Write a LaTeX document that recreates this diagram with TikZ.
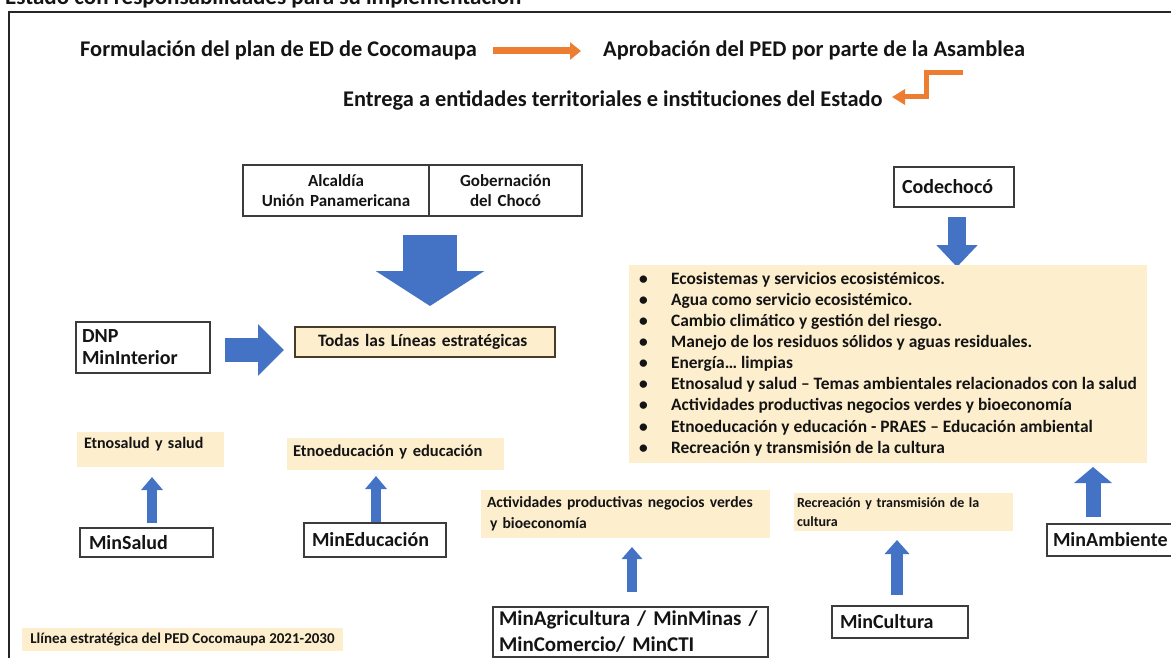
\documentclass[tikz,border=0pt]{standalone}
\usepackage{fontspec}
\setmainfont{Carlito}
\usetikzlibrary{arrows.meta}
\definecolor{ora}{RGB}{237,125,49}
\definecolor{blu}{RGB}{68,114,196}
\definecolor{yel}{RGB}{253,238,205}
\definecolor{bxc}{RGB}{60,60,60}
\definecolor{todc}{RGB}{70,60,40}
\definecolor{txc}{RGB}{20,20,20}
\newcommand\myfs[2]{\fontsize{#1}{#2}\selectfont\bfseries}
\newcommand\bul{\makebox[32pt][l]{\textbullet}}
\begin{document}
\begin{tikzpicture}[x=1pt,y=-1pt,
  bx/.style={draw=bxc, line width=1.2pt, fill=white, anchor=north west, align=left, inner ysep=0pt, outer sep=0pt, text=txc},
  yb/.style={fill=yel, anchor=north west, align=left, inner ysep=0pt, outer sep=0pt, text=txc},
  hdr/.style={anchor=base west, inner sep=0pt, text=txc, font=\myfs{22.4}{27}},
  barr/.style n args={3}{draw=blu, line width=#1, arrows={-{Triangle[length=#2,width=#3]}}},
  oarr/.style n args={3}{draw=ora, line width=#1, line join=miter, arrows={-{Triangle[length=#2,width=#3]}}},
]
\useasboundingbox (0,0) rectangle (1171,658);
\clip (0,0) rectangle (1171,658);
\fill[white] (0,0) rectangle (1171,658);

% frame
\draw[line width=1.6pt, black!85] (1180,12) -- (9,12) -- (9,670);

% cut title (cut by the top edge, as in the reference)
\node[anchor=base west, inner sep=0pt, text=txc, font=\myfs{23}{27}] (ttl) at (5,5) {Estado con responsabilidades para su implementación};

% header
\node[hdr] (formul) at (80,57) {Formulación del plan de ED de Cocomaupa};
\node[hdr] (aprob) at (603,57) {Aprobación del PED por parte de la Asamblea};
\node[hdr] (entrega) at (343,107) {Entrega a entidades territoriales e instituciones del Estado};
\coordinate (o1s) at (493,51);
\coordinate (o1e) at (581,51);
\draw[oarr={7}{11pt}{17pt}] (o1s) -- (o1e);
\coordinate (o2s) at (963,73);
\coordinate (o2e) at (892,97);
\draw[oarr={5}{13pt}{15pt}] (o2s) -- (926,73) -- (926,97) -- (o2e);

% Alcaldia / Gobernacion
\node[bx, minimum height=51, text width=170, inner xsep=8, align=center, font=\myfs{17}{20}] (alc) at (243,165) {Alcaldía\\Unión Panamericana};
\node[bx, minimum height=51, text width=137, inner xsep=8, align=center, font=\myfs{17}{20}] (gob) at (429,165) {Gobernación\\del Chocó};
\coordinate (b1s) at (430,235);
\coordinate (b1e) at (430,306);
\draw[barr={54}{35pt}{107pt}] (b1s) -- (b1e);

% Todas las lineas
\node[yb, draw=todc, line width=1.2pt, minimum height=30, text width=214, inner xsep=23, font=\myfs{17.4}{21}] (todas) at (295,327) {Todas las Líneas estratégicas};

% DNP
\node[bx, minimum height=51, text width=122, inner xsep=6, font=\myfs{20}{22}] (dnp) at (76,322) {DNP\\MinInterior};
\coordinate (b2s) at (225,350);
\coordinate (b2e) at (284,350);
\draw[barr={24}{26pt}{50pt}] (b2s) -- (b2e);

% Codechoco
\node[bx, minimum height=40, text width=104, inner xsep=8, font=\myfs{20}{22}] (codechoco) at (894,167) {Codechocó};
\coordinate (b3s) at (957,217);
\coordinate (b3e) at (957,267);
\draw[barr={18}{22pt}{40pt}] (b3s) -- (b3e);

% bullet list
\node[yb, minimum width=518, minimum height=198, inner xsep=0pt, font=\myfs{17.4}{21.1}] (lineas) at (629,265) {%
\bul Ecosistemas y servicios ecosistémicos.\\
\bul Agua como servicio ecosistémico.\\
\bul Cambio climático y gestión del riesgo.\\
\bul Manejo de los residuos sólidos y aguas residuales.\\
\bul Energía… limpias\\
\bul Etnosalud y salud – Temas ambientales relacionados con la salud\\
\bul Actividades productivas negocios verdes y bioeconomía\\
\bul Etnoeducación y educación - PRAES – Educación ambiental\\
\bul Recreación y transmisión de la cultura};

% MinSalud
\node[yb, text height=16, text depth=19, text width=133, inner xsep=7, font=\myfs{16}{19}] (etnosalud) at (77,432) {Etnosalud y salud};
\node[bx, minimum height=29, text width=115, inner xsep=9, font=\myfs{20}{22}] (minsalud) at (80,528) {MinSalud};
\coordinate (b4s) at (152,523);
\coordinate (b4e) at (152,477);
\draw[barr={10}{13pt}{21pt}] (b4s) -- (b4e);

% MinEducacion
\node[yb, text height=18, text depth=14, text width=205, inner xsep=6, font=\myfs{16.5}{19}] (etnoedu) at (287,438) {Etnoeducación y educación};
\node[bx, minimum height=34, text width=126, inner xsep=8, font=\myfs{20}{22}] (minedu) at (304,523) {MinEducación};
\coordinate (b5s) at (376,522);
\coordinate (b5e) at (376,476);
\draw[barr={10}{13pt}{21pt}] (b5s) -- (b5e);

% Actividades
\node[yb, minimum height=48, text width=277, inner xsep=6, font=\myfs{15.6}{21}] (activ) at (481,490) {Actividades productivas negocios verdes\\\hspace*{3pt}y bioeconomía};
\node[bx, minimum height=50, text width=263, inner xsep=6, font=\myfs{21}{26}] (minagri) at (493,607) {MinAgricultura / MinMinas /\\MinComercio/ MinCTI};
\coordinate (b6s) at (632,592);
\coordinate (b6e) at (632,547);
\draw[barr={10}{12pt}{20pt}] (b6s) -- (b6e);

% Cultura
\node[yb, minimum height=38, text width=213, inner xsep=3, font=\myfs{14}{19}] (recre) at (794,493) {\makebox[213pt][s]{Recreación y transmisión de la}\\cultura};
\node[bx, minimum height=32, text width=120, inner xsep=8, font=\myfs{20}{22}] (mincult) at (832,606) {MinCultura};
\coordinate (b7s) at (897,595);
\coordinate (b7e) at (897,540);
\draw[barr={12}{14pt}{24pt}] (b7s) -- (b7e);

% Ambiente
\node[bx, minimum height=32, text width=130, inner xsep=6, font=\myfs{20}{22}] (minamb) at (1047,524) {MinAmbiente};
\coordinate (b8s) at (1093,517);
\coordinate (b8e) at (1093,467);
\draw[barr={15}{16pt}{37pt}] (b8s) -- (b8e);

% legend
\node[yb, minimum height=23, minimum width=321, inner xsep=5, font=\myfs{15}{18}] (linea) at (22,628) {Llínea estratégica del PED Cocomaupa 2021-2030};
\end{tikzpicture}
\end{document}
